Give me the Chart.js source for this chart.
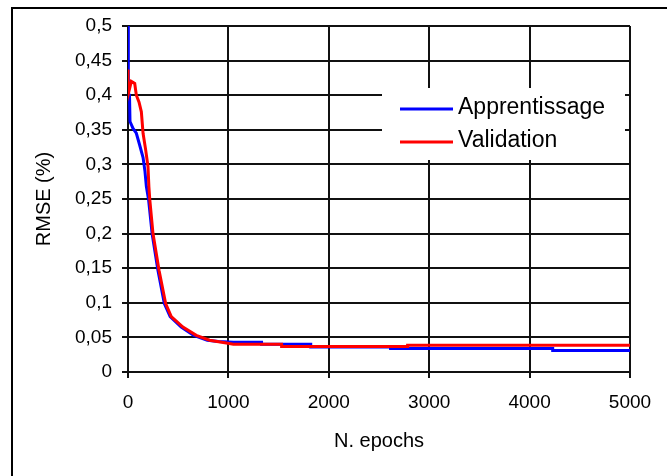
<!DOCTYPE html>
<html>
<head>
<meta charset="utf-8">
<title>RMSE</title>
<script src="https://cdn.jsdelivr.net/npm/chart.js@4.4.0/dist/chart.umd.min.js"></script>
<style>
  html, body { margin: 0; padding: 0; background: #fff; }
  #frame {
    position: absolute; left: 11px; top: 7px; right: 0; bottom: 0;
    border-left: 2px solid #000; border-top: 2px solid #000;
  }
  #wrap { position: absolute; left: 0; top: 0; width: 667px; height: 476px; }
</style>
</head>
<body>
<div id="frame"></div>
<div id="wrap"><canvas id="rmse-chart" width="667" height="476"></canvas></div>
<script>
// training error (Apprentissage)
const trainEpochs = [0, 0, 5, 5, 15, 20, 50, 83, 116, 150, 169, 183, 205, 240, 298, 362, 420, 530, 655, 790, 900, 1050, 1330, 1330, 1820, 1820, 2615, 2615, 4230, 4230, 5000];
const trainRmse = [0.5, 0.453, 0.453, 0.40, 0.40, 0.362, 0.352, 0.345, 0.328, 0.31, 0.29, 0.268, 0.249, 0.2, 0.147, 0.099, 0.08, 0.065, 0.053, 0.046, 0.044, 0.043, 0.043, 0.040, 0.040, 0.036, 0.036, 0.034, 0.034, 0.031, 0.031];

// validation error
const validEpochs = [0, 0, 33, 67, 83, 110, 133, 150, 176, 199, 208, 217, 249, 309, 375, 431, 547, 680, 813, 979, 1050, 1530, 1530, 2785, 2785, 5000];
const validRmse = [0.437, 0.40, 0.42, 0.417, 0.40, 0.39, 0.376, 0.345, 0.321, 0.297, 0.268, 0.249, 0.2, 0.147, 0.099, 0.08, 0.065, 0.053, 0.046, 0.042, 0.040, 0.040, 0.037, 0.037, 0.0385, 0.0385];

const seriesNames = ["Apprentissage", "Validation"];
const seriesColors = ["#0000ff", "#ff0000"];

function toPoints(xs, ys) {
    return xs.map((x, i) => ({ x: x, y: ys[i] }));
}

Chart.defaults.font.family = '"Liberation Sans", Arial, sans-serif';
Chart.defaults.color = "#000";

// legend drawn inside the plot, on a white patch over the grid
const innerLegend = {
    id: "innerLegend",
    afterDatasetsDraw(chart) {
        const ctx = chart.ctx;
        const area = chart.chartArea;
        const boxX = area.left + 254, boxY = area.top + 62;
        ctx.save();
        ctx.fillStyle = "#fff";
        ctx.fillRect(boxX, boxY, area.right - 5 - boxX, 72);
        ctx.font = '23px "Liberation Sans", Arial, sans-serif';
        ctx.textBaseline = "alphabetic";
        ctx.fillStyle = "#000";
        chart.data.datasets.forEach((ds, i) => {
            const y = boxY + 21 + i * 33;
            ctx.strokeStyle = ds.borderColor;
            ctx.lineWidth = 3;
            ctx.beginPath();
            ctx.moveTo(boxX + 18, y);
            ctx.lineTo(boxX + 71, y);
            ctx.stroke();
            ctx.fillText(ds.label, boxX + 76, y + 5);
        });
        ctx.restore();
    }
};

new Chart(document.getElementById("rmse-chart"), {
    type: "line",
    data: {
        datasets: [
            {
                label: seriesNames[0],
                data: toPoints(trainEpochs, trainRmse),
                borderColor: seriesColors[0],
                borderWidth: 3,
                order: 1
            },
            {
                label: seriesNames[1],
                data: toPoints(validEpochs, validRmse),
                borderColor: seriesColors[1],
                borderWidth: 3,
                order: 0
            }
        ]
    },
    options: {
        responsive: false,
        animation: false,
        events: [],
        layout: { padding: { left: 0, top: 26, right: 37, bottom: 0 } },
        elements: {
            point: { radius: 0 },
            line: { tension: 0, borderCapStyle: "butt" }
        },
        plugins: {
            legend: { display: false },
            tooltip: { enabled: false }
        },
        scales: {
            x: {
                type: "linear",
                min: 0,
                max: 5000,
                grid: { color: "#111", lineWidth: 2, tickLength: 6, tickColor: "#111" },
                border: { color: "#111", width: 2 },
                ticks: {
                    stepSize: 1000,
                    padding: 13,
                    maxRotation: 0,
                    font: { size: 19 },
                    callback: v => String(v)
                },
                title: {
                    display: true,
                    text: "N. epochs",
                    font: { size: 20 },
                    padding: { top: 0, bottom: 23 }
                },
                afterFit(scale) {
                    scale.height = 104;
                    scale.paddingLeft = 0;
                    scale.paddingRight = 0;
                }
            },
            y: {
                min: 0,
                max: 0.5,
                grid: { color: "#111", lineWidth: 2, tickLength: 6, tickColor: "#111" },
                border: { color: "#111", width: 2 },
                ticks: {
                    stepSize: 0.05,
                    padding: 10,
                    font: { size: 19 },
                    callback: v => String(Number(v.toFixed(2))).replace(".", ",")
                },
                title: {
                    display: true,
                    text: "RMSE (%)",
                    font: { size: 20 },
                    padding: { top: 32, bottom: 0 }
                },
                afterFit(scale) {
                    scale.width = 128;
                    scale.paddingTop = 0;
                    scale.paddingBottom = 0;
                }
            }
        }
    },
    plugins: [innerLegend]
});
</script>
</body>
</html>
